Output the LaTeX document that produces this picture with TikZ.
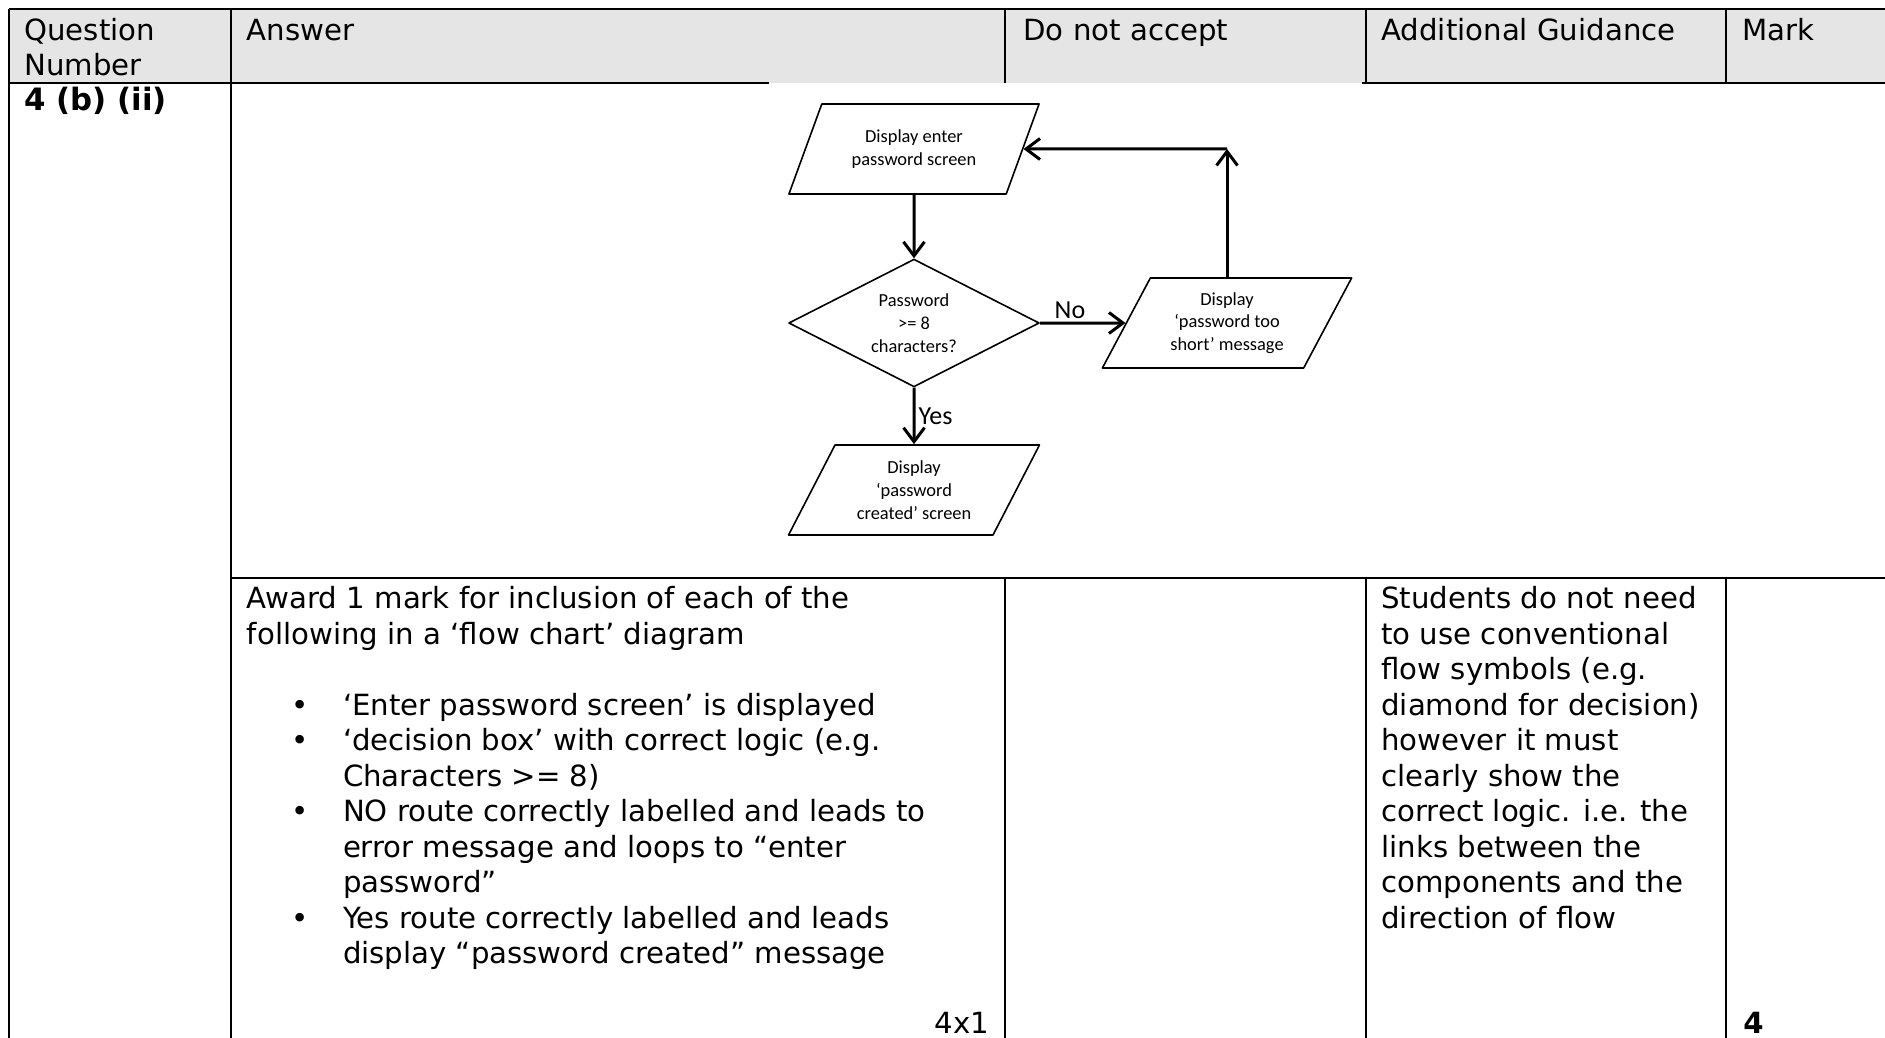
\documentclass[tikz,border=0pt]{standalone}
\usepackage{fontspec}
\setmainfont{DejaVu Sans}
\newfontfamily\chartfont{Carlito}
\usetikzlibrary{shapes.geometric,arrows.meta}
\definecolor{headgray}{gray}{0.9}
\tikzset{
	tline/.style={line width=1pt},
	cell/.style={anchor=base west,inner sep=0pt},
	chart/.style={font=\chartfont\fontsize{9.2}{11.35}\selectfont,align=center,inner sep=0pt,line width=0.8pt},
	iobox/.style={chart,draw,trapezium,trapezium left angle=60,trapezium right angle=120,trapezium stretches=true,minimum width=125.5pt,minimum height=45pt},
	decbox/.style={chart,draw,diamond,aspect=2,minimum width=125.3pt,minimum height=63.9pt},
	flow/.style={->,line width=1.5pt},
	flowlbl/.style={font=\chartfont\fontsize{13}{15}\selectfont,inner sep=1.5pt}
}
\begin{document}
\begin{tikzpicture}[x=0.5pt,y=-0.5pt,>={Straight Barb[length=7pt,width=10.5pt]},line join=round,font=\fontsize{14.6}{17.75}\selectfont]
	\useasboundingbox (0,0) rectangle (1885,1038);
	\def\hb{83}
	\def\rb{578}
	\def\ls{35.5}
	\def\tb{608.5}
	% header row
	\fill[headgray] (9,9) rectangle (1885,\hb);
	\draw[tline] (9,9) -- (1885,9);
	\draw[tline] (9,\hb) -- (769,\hb) (1362,\hb) -- (1885,\hb);
	\draw[tline] (231,\rb) -- (1885,\rb);
	\foreach \x in {9,231}
	\draw[tline] (\x,9) -- (\x,1038);
	\foreach \x in {1005,1366,1726}
	\draw[tline] (\x,9) -- (\x,\hb) (\x,\rb) -- (\x,1038);
	\foreach \n/\x/\t in {qhead/24/Question,ahead/246.5/Answer,nhead/1023/Do not accept,ghead/1381/Additional Guidance,mhead/1742/Mark}
	\node[cell] (\n) at (\x,40.5) {\t};
	\node[cell] (qhead2) at (24,40.5+\ls) {Number};
	\node[cell] (qnum) at (24,111) {\fontsize{15.4}{18}\selectfont\bfseries 4 (b) (ii)};
	% flow chart
	\node[iobox] (enter) at (914,149) {Display enter\\password screen};
	\node[decbox] (decide) at (914,323) {Password\\>= 8\\characters?};
	\node[iobox] (short) at (1227,323) {Display\\‘password too\\short’ message};
	\node[iobox] (created) at (914,490) {Display\\‘password\\created’ screen};
	\path (short.north |- enter) coordinate (loop);
	\draw[flow] (enter) -- (decide);
	\draw[flow] (decide) -- node[flowlbl,above,pos=.35] (nolbl) {No} (short);
	\draw[flow] (decide) -- node[flowlbl,right] (yeslbl) {Yes} (created);
	\draw[flow] (short.north) -- (loop);
	\draw[flow] (loop) -- (enter);
	% mark scheme text
	\foreach \t [count=\i from 0] in {Award 1 mark for inclusion of each of the,following in a ‘flow chart’ diagram}
	\node[cell] (award\i) at (246.5,\tb+\ls*\i) {\t};
	\foreach \t [count=\i from 3] in {‘Enter password screen’ is displayed,‘decision box’ with correct logic (e.g.,Characters >= 8),NO route correctly labelled and leads to,error message and loops to “enter,password”,Yes route correctly labelled and leads,display “password created” message}
	\node[cell] (point\i) at (342.6,\tb+\ls*\i) {\t};
	\foreach \i in {3,4,6,9}
	\node[anchor=base] (dot\i) at (300,\tb+\ls*\i) {•};
	\node[anchor=base east,inner sep=0pt] (total) at (989.5,1033) {4x1};
	\foreach \t [count=\i from 0] in {Students do not need,to use conventional,flow symbols (e.g.,diamond for decision),however it must,clearly show the,correct logic. i.e. the,links between the,components and the,direction of flow}
	\node[cell] (guide\i) at (1381,\tb+\ls*\i) {\t};
	\node[cell] (mark) at (1743,1033) {\bfseries 4};
\end{tikzpicture}
\end{document}
